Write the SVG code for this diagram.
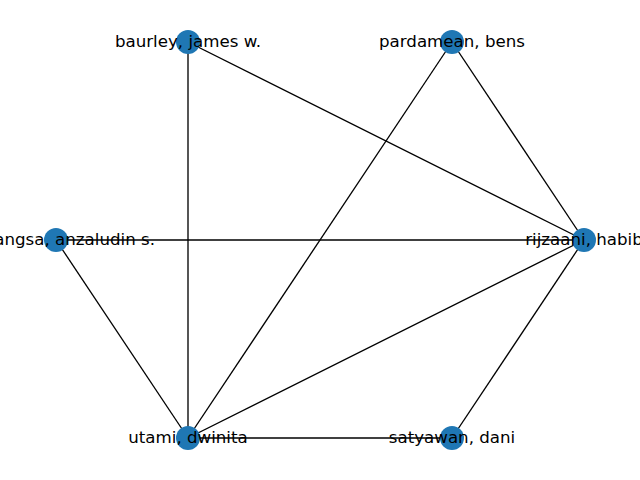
<svg xmlns="http://www.w3.org/2000/svg" width="640" height="480" viewBox="0 0 640 480">
<style>
.edge{stroke:#000;stroke-width:1.33;fill:none}
.node{fill:#1f77b4}
.lbl{font-family:"DejaVu Sans",sans-serif;font-size:16.67px;fill:#000;text-anchor:middle}
</style>
<rect width="640" height="480" fill="#fff"/>
<g id="edges">
<line class="edge" x1="188" y1="42" x2="188" y2="438"/>
<line class="edge" x1="188" y1="42" x2="584" y2="240"/>
<line class="edge" x1="452" y1="42" x2="188" y2="438"/>
<line class="edge" x1="452" y1="42" x2="584" y2="240"/>
<line class="edge" x1="56" y1="240" x2="584" y2="240"/>
<line class="edge" x1="56" y1="240" x2="188" y2="438"/>
<line class="edge" x1="188" y1="438" x2="584" y2="240"/>
<line class="edge" x1="188" y1="438" x2="452" y2="438"/>
<line class="edge" x1="584" y1="240" x2="452" y2="438"/>
</g>
<g id="baurley"><circle class="node" cx="188" cy="42" r="12"/><text class="lbl" x="188" y="47">baurley, james w.</text></g>
<g id="pardamean"><circle class="node" cx="452" cy="42" r="12"/><text class="lbl" x="452" y="47">pardamean, bens</text></g>
<g id="rijzaani"><circle class="node" cx="584" cy="240" r="12"/><text class="lbl" x="584" y="245">rijzaani, habib</text></g>
<g id="satyawan"><circle class="node" cx="452" cy="438" r="12"/><text class="lbl" x="452" y="443">satyawan, dani</text></g>
<g id="utami"><circle class="node" cx="188" cy="438" r="12"/><text class="lbl" x="188" y="443">utami, dwinita</text></g>
<g id="anzaludin"><circle class="node" cx="56" cy="240" r="12"/><text class="lbl" x="155" y="245" style="text-anchor:end">angsa, anzaludin s.</text></g>
</svg>
